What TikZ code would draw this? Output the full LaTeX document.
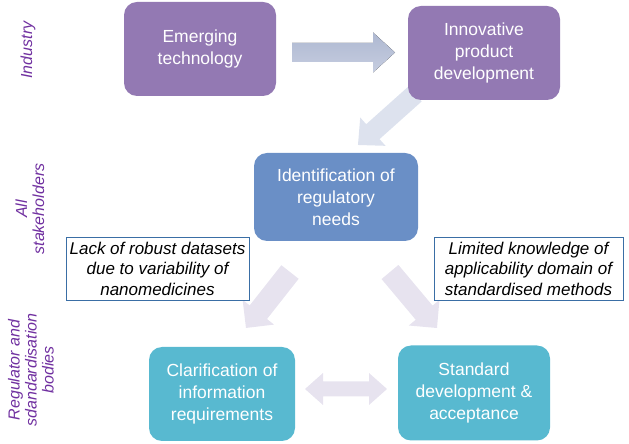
\documentclass[tikz,border=0pt]{standalone}
\usepackage{fontspec}
\setmainfont{Liberation Sans}
\definecolor{purplebox}{HTML}{9379B3}
\definecolor{bluebox}{HTML}{6A8FC6}
\definecolor{tealbox}{HTML}{58B9D0}
\definecolor{labelpurple}{HTML}{7030A0}
\definecolor{notebord}{HTML}{3A6EA5}
\definecolor{arrA}{HTML}{DDE2EE}
\definecolor{arrB}{HTML}{E7E3EF}
\definecolor{arrTop}{HTML}{AEB8D1}
\definecolor{arrBot}{HTML}{C6CDE0}
\tikzset{
  stepbox/.style={rounded corners=13pt, draw=none, text=white, align=center,
    font=\fontsize{17.5}{22}\selectfont, inner sep=0pt},
  notebox/.style={draw=notebord, line width=0.8pt, align=center, inner sep=0pt,
    font=\fontsize{17}{20.5}\selectfont\itshape},
  sidelabel/.style={text=labelpurple, rotate=90, align=center,
    font=\fontsize{16}{17}\selectfont\itshape},
}
% block arrow: x, y (tail), angle, length, shaft half, head half, head length, fill options
\newcommand{\blockarr}[8]{%
  \fill[#8, shift={(#1,#2)}, rotate=#3] (0,-#5) -- ({#4-#7},-#5) -- ({#4-#7},-#6) -- (#4,0)
    -- ({#4-#7},#6) -- ({#4-#7},#5) -- (0,#5) -- cycle;}
\newcommand{\dblarr}[8]{%
  \fill[#8, shift={(#1,#2)}, rotate=#3] (0,0) -- (#7,-#6) -- (#7,-#5) -- ({#4-#7},-#5) -- ({#4-#7},-#6) -- (#4,0)
    -- ({#4-#7},#6) -- ({#4-#7},#5) -- (#7,#5) -- (#7,#6) -- cycle;}
\begin{document}
\begin{tikzpicture}[x=1pt,y=1pt]
\useasboundingbox (0,0) rectangle (629,444);
% block arrows (drawn first, behind boxes)
\blockarr{292}{391.5}{0}{103}{9.5}{20}{22}{top color=arrTop, bottom color=arrBot}
\blockarr{415}{350}{221.8}{76.5}{10}{19}{20}{arrA}
\blockarr{290}{172}{231.8}{71.2}{11}{20}{20}{arrB}
\blockarr{390}{172}{310}{73.1}{11}{20}{20}{arrB}
\dblarr{305}{55}{0}{82}{7.5}{16}{18}{arrB}
% boxes
\node[stepbox, fill=purplebox, minimum width=152pt, minimum height=94pt] (emerg) at (200,395) {Emerging\\technology};
\node[stepbox, fill=purplebox, minimum width=152pt, minimum height=94pt] (innov) at (484,391) {Innovative\\product\\development};
\node[stepbox, fill=bluebox, minimum width=164pt, minimum height=88pt] (ident) at (336,247) {Identification of\\regulatory\\needs};
\node[stepbox, fill=tealbox, minimum width=146pt, minimum height=94pt] (clar) at (222,50) {Clarification of\\information\\requirements};
\node[stepbox, fill=tealbox, minimum width=152pt, minimum height=95pt] (stand) at (474,51) {Standard\\development \&\\acceptance};
% notes
\node[notebox, fill=white, minimum width=183pt, minimum height=63pt] (lack) at (157.5,175.5) {Lack of robust datasets\\due to variability of\\nanomedicines};
\node[notebox, fill=white, minimum width=189pt, minimum height=63pt] (limit) at (528.5,175.5) {Limited knowledge of\\applicability domain of\\standardised methods};
% side labels
\node[sidelabel] (lind) at (28,394) {Industry};
\node[sidelabel] (lall) at (30,235) {All\\stakeholders};
\node[sidelabel] (lreg) at (31,74) {Regulator and\\sdandardisation\\bodies};
\end{tikzpicture}
\end{document}
